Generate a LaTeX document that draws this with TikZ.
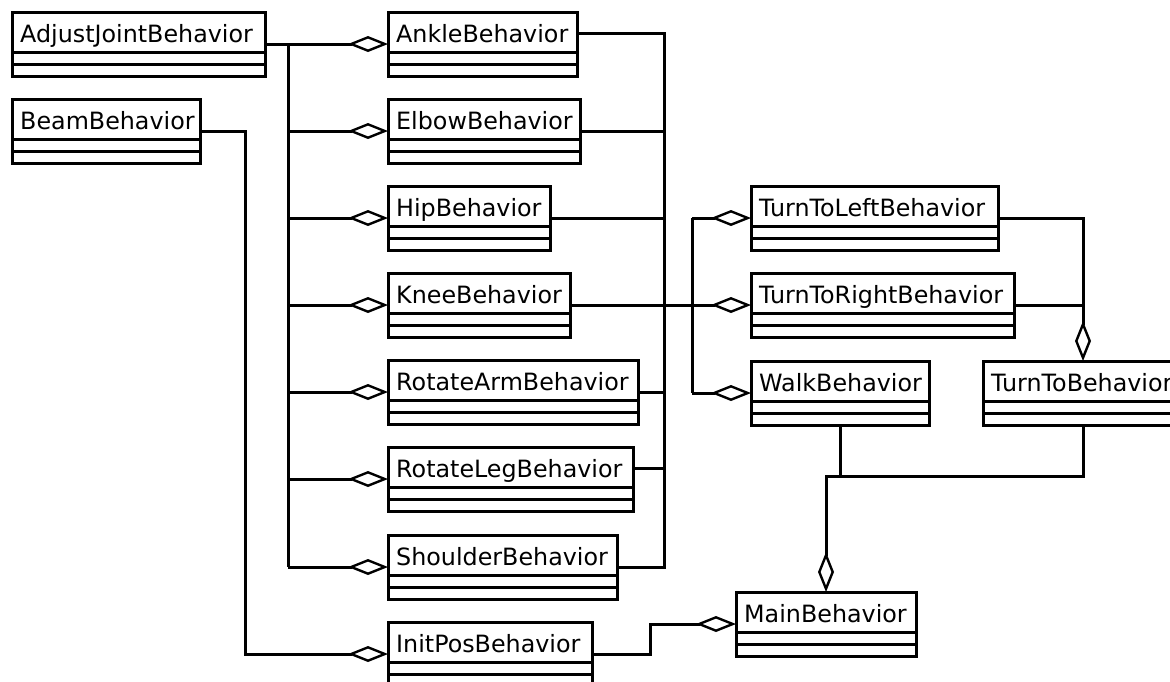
\documentclass[tikz,border=0pt]{standalone}
\usepackage{fontspec}
\setmainfont{DejaVu Sans}
\usetikzlibrary{arrows.meta,calc}

\tikzset{
  classbox/.style={draw, line width=3pt, rectangle, anchor=north west,
    minimum height=64pt, inner sep=0pt, outer sep=0pt},
  classname/.style={anchor=base west, inner sep=0pt,
    font=\fontsize{23.8}{28}\selectfont},
  classline/.style={line width=3pt},
  conn/.style={line width=3pt},
  agg/.style={conn, -{Diamond[open, length=40pt, width=16pt, line width=2.4pt]}},
}

% UML class: name, x, y (top left, y downwards), width, label
\newcommand\umlclass[5]{%
  \node[classbox, minimum width=#4pt] (#1) at (#2,#3) {};
  \node[classname] (#1-name) at ($(#1.north west)+(8,30)$) {#5};
  \draw[classline] ($(#1.north west)+(0,40)$) -- ($(#1.north east)+(0,40)$)
                   ($(#1.north west)+(0,52)$) -- ($(#1.north east)+(0,52)$);
}

\begin{document}
\begin{tikzpicture}[x=1pt, y=-1pt]
\useasboundingbox (0,0) rectangle (1170,681);
\clip (0,0) rectangle (1170,681);

% classes
\umlclass{adjust}{12}{12}{253}{AdjustJointBehavior}
\umlclass{beam}{12}{99}{188}{BeamBehavior}
\umlclass{ankle}{388}{12}{189}{AnkleBehavior}
\umlclass{elbow}{388}{99}{192}{ElbowBehavior}
\umlclass{hip}{388}{186}{162}{HipBehavior}
\umlclass{knee}{388}{273}{182}{KneeBehavior}
\umlclass{rotarm}{388}{360}{250}{RotateArmBehavior}
\umlclass{rotleg}{388}{447}{245}{RotateLegBehavior}
\umlclass{shoulder}{388}{535}{229}{ShoulderBehavior}
\umlclass{initpos}{388}{622}{204}{InitPosBehavior}
\umlclass{turnleft}{751}{186}{247}{TurnToLeftBehavior}
\umlclass{turnright}{751}{273}{263}{TurnToRightBehavior}
\umlclass{walk}{751}{361}{178}{WalkBehavior}
\umlclass{turnto}{983}{361}{200}{TurnToBehavior}
\umlclass{main}{736}{592}{180}{MainBehavior}

% trunk positions
\coordinate (tl) at (288,0);
\coordinate (tr) at (664,0);
\coordinate (tk) at (692,0);
\coordinate (bus) at (0,476);

% AdjustJointBehavior aggregated by the joint behaviours
\draw[agg] (adjust.east) -- (ankle.west);
\draw[conn] (tl |- adjust.east) -- (tl |- shoulder.west);
\foreach \c in {elbow,hip,knee,rotarm,rotleg,shoulder}
  \draw[agg] (tl |- \c.west) -- (\c.west);

% joint behaviours joined on the right
\draw[conn] ($(ankle.east)+(0,-11)$) -- (tr |- {$(ankle.east)+(0,-11)$})
            -- (tr |- shoulder.east) -- (shoulder.east);
\draw[conn] (elbow.east) -- (tr |- elbow.east);
\draw[conn] (hip.east) -- (tr |- hip.east);
\draw[conn] (rotarm.east) -- (tr |- rotarm.east);
\draw[conn] ($(rotleg.east)+(0,-11)$) -- (tr |- {$(rotleg.east)+(0,-11)$});

% turning and walking
\draw[agg] (knee.east) -- (turnright.west);
\draw[conn] (tk |- turnleft.west) -- (tk |- walk.west);
\draw[agg] (tk |- turnleft.west) -- (turnleft.west);
\draw[agg] (tk |- walk.west) -- (walk.west);

% TurnToBehavior
\draw[agg] (turnleft.east) -| (turnto.north);
\draw[conn] (turnright.east) -- (turnto.north |- turnright.east);

% MainBehavior
\draw[conn] (walk.south) -- (walk.south |- bus);
\draw[agg] (turnto.south) |- (main.north |- bus) -- (main.north);
\draw[agg] (initpos.east) -- ++(58,0) |- (main.west);

% BeamBehavior to InitPosBehavior
\draw[agg] (beam.east) -- ++(45,0) |- (initpos.west);
\end{tikzpicture}
\end{document}
